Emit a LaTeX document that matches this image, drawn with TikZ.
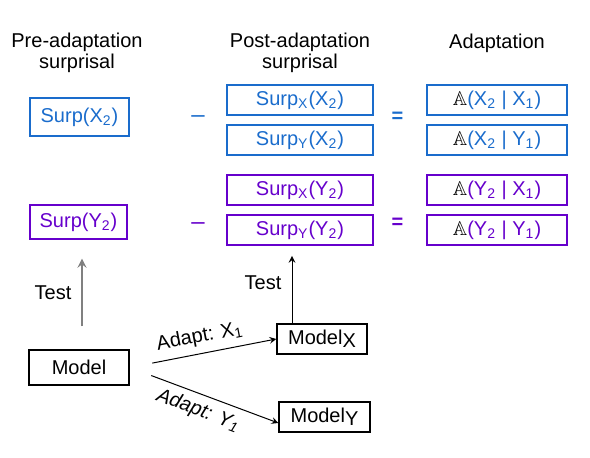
\documentclass[tikz,border=0pt]{standalone}
\usepackage{fontspec}
\setmainfont{Liberation Sans}
\usepackage{amssymb}
\usetikzlibrary{positioning}

\definecolor{surpblue}{RGB}{26,108,204}
\definecolor{surppurple}{RGB}{102,0,204}
\newcommand{\bbA}{{\color{black}$\mathbb{A}$}}

\tikzset{
  sbox/.style={draw, line width=0.6pt, inner sep=0pt, minimum height=15pt},
  postbox/.style={sbox, minimum width=73pt},
  adbox/.style={sbox, minimum width=70pt},
  modelbox/.style={sbox, line width=0.7pt, black}
}

\begin{document}
\begin{tikzpicture}[x=0.5pt, y=-0.5pt, on grid, >=stealth,
  every node/.style={font=\fontsize{10}{10.5}\selectfont}]
\useasboundingbox (0,0) rectangle (590,458);

%% Column heads
\node[align=center] (hpre) at (77,53) {Pre-adaptation\\surprisal};
\node[align=center] (hpost) at (300,53) {Post-adaptation\\surprisal};
\node (had) at (497,43) {Adaptation};

%% Pre-adaptation
\node[sbox, surpblue, minimum width=49.5pt, minimum height=19pt] (preX) at (79.5,117) {Surp(X\textsubscript{2})};
\node[sbox, surppurple, minimum width=48.5pt, minimum height=17pt] (preY) at (78.5,222) {Surp(Y\textsubscript{2})};

\node[surpblue, font=\fontsize{12}{12}\selectfont] (minX) at (198,119) {--};
\node[surppurple, font=\fontsize{12}{12}\selectfont] (minY) at (198,226) {--};

%% Post-adaptation
\node[postbox, surpblue] (postXX) at (300,100) {Surp\textsubscript{X}(X\textsubscript{2})};
\node[postbox, surpblue, below=20pt of postXX] (postYX) {Surp\textsubscript{Y}(X\textsubscript{2})};
\node[postbox, surppurple, below=25pt of postYX] (postXY) {Surp\textsubscript{X}(Y\textsubscript{2})};
\node[postbox, surppurple, below=20pt of postXY] (postYY) {Surp\textsubscript{Y}(Y\textsubscript{2})};

\node[surpblue] (eqX) at (397.5,117) {\bfseries =};
\node[surppurple] (eqY) at (397.5,223) {\bfseries =};

%% Adaptation
\node[adbox, surpblue, right=98.5pt of postXX] (adXX) {\bbA(X\textsubscript{2} | X\textsubscript{1})};
\node[adbox, surpblue, right=98.5pt of postYX] (adYX) {\bbA(X\textsubscript{2} | Y\textsubscript{1})};
\node[adbox, surppurple, right=98.5pt of postXY] (adXY) {\bbA(Y\textsubscript{2} | X\textsubscript{1})};
\node[adbox, surppurple, right=98.5pt of postYY] (adYY) {\bbA(Y\textsubscript{2} | Y\textsubscript{1})};

%% Models
\node[modelbox, minimum width=50pt, minimum height=17.5pt] (model) at (79,367.5) {Model};
\node[modelbox, minimum width=45pt] (modelX) at (322,339) {Model\raisebox{-1.5pt}{X}};
\node[modelbox, minimum width=45.5pt] (modelY) at (324.5,417) {Model\raisebox{-1.5pt}{Y}};

%% Test arrows
\draw[->, gray, line width=1pt, shorten <=11.5pt, shorten >=9.5pt]
  ([xshift=1.5pt]model.north) -- ([xshift=1.5pt]model.north |- preY.south);
\node (testL) at (53,293) {Test};
\coordinate (tipR) at (292,256);
\draw[->, line width=0.5pt] (modelX.north -| tipR) -- (tipR);
\node (testR) at (263,283) {Test};

%% Adapt arrows
\draw[->, line width=0.5pt, shorten <=11.5pt] (model.east) -- (modelX.west)
  node[pos=0.5, above, sloped] {Adapt: X\textsubscript{1}};
\draw[->, line width=0.5pt, shorten <=11.5pt] (model.east) -- ([yshift=-3pt]modelY.west)
  node[pos=0.5, below, sloped] {\itshape Adapt: Y\textsubscript{1}};

\end{tikzpicture}
\end{document}
